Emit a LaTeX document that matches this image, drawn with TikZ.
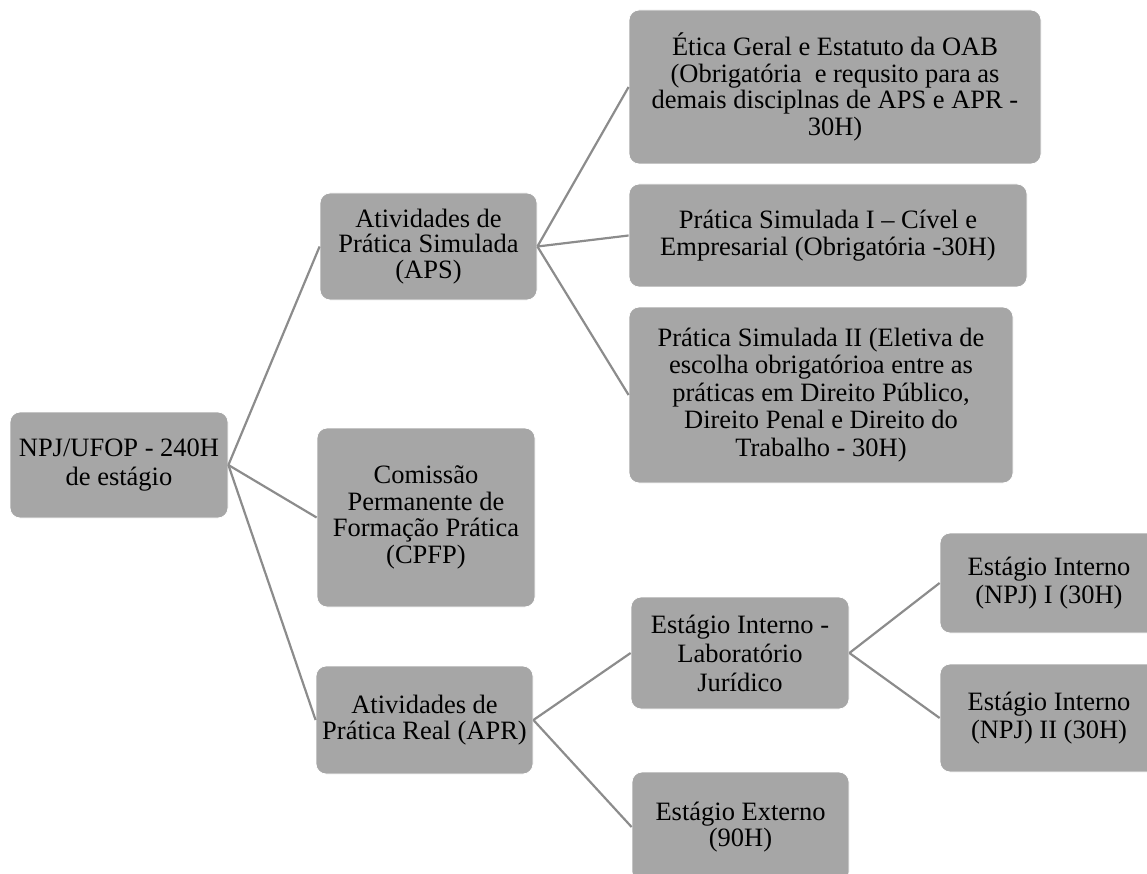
\documentclass[tikz,border=0pt]{standalone}
\usepackage{fontspec}
\setmainfont{Liberation Serif}
\definecolor{boxfill}{RGB}{166,166,166}
\definecolor{linkc}{RGB}{140,140,140}
\tikzset{
  box/.style={rounded corners=10pt, fill=boxfill, draw=white, line width=0.8pt,
    inner sep=0pt, align=center, text=black,
    font=\fontsize{26.5}{26.5}\selectfont},
  link/.style={draw=linkc, line width=2.2pt}
}
\begin{document}
\begin{tikzpicture}[x=1pt, y=-1pt]
\useasboundingbox (0,0) rectangle (1147,874);
\clip (0,0) rectangle (1147,874);
\node[box, minimum width=218pt, minimum height=106pt, font=\fontsize{26.5}{29.5}\selectfont] (root) at (119,465) {NPJ/UFOP - 240H\\de estágio};
\node[box, minimum width=217pt, minimum height=107pt, font=\fontsize{26.5}{25.7}\selectfont] (aps) at (428.5,246.5) {Atividades de\\Prática Simulada\\(APS)};
\node[box, minimum width=218pt, minimum height=179pt] (cpfp) at (426,517.5) {Comissão\\Permanente de\\Formação Prática\\(CPFP)};
\node[box, minimum width=217pt, minimum height=108pt] (apr) at (424.5,720) {Atividades de\\Prática Real (APR)};
\node[box, minimum width=412pt, minimum height=154pt] (etica) at (835,87) {Ética Geral e Estatuto da OAB\\(Obrigatória\ \ e requsito para as\\demais disciplnas de APS e APR -\\30H)};
\node[box, minimum width=398pt, minimum height=103pt] (psi) at (828,235.5) {Prática Simulada I – Cível e\\Empresarial (Obrigatória -30H)};
\node[box, minimum width=384pt, minimum height=176pt, font=\fontsize{26.5}{27.5}\selectfont] (psii) at (821,395) {Prática Simulada II (Eletiva de\\escolha obrigatórioa entre as\\práticas em Direito Público,\\Direito Penal e Direito do\\Trabalho - 30H)};
\node[box, minimum width=218pt, minimum height=112pt, font=\fontsize{26.5}{29}\selectfont] (lab) at (740,653) {Estágio Interno -\\Laboratório\\Jurídico};
\node[box, minimum width=217pt, minimum height=110pt] (ext) at (740.5,827) {Estágio Externo\\(90H)};
\node[box, minimum width=218pt, minimum height=100pt, font=\fontsize{26.5}{28.5}\selectfont] (int1) at (1049,583) {Estágio Interno\\(NPJ) I (30H)};
\node[box, minimum width=218pt, minimum height=108pt, font=\fontsize{26.5}{28.5}\selectfont] (int2) at (1049,718) {Estágio Interno\\(NPJ) II (30H)};
\draw[link] (root.east) -- (aps.west);
\draw[link] (root.east) -- (cpfp.west);
\draw[link] (root.east) -- (apr.west);
\draw[link] (aps.east) -- (etica.west);
\draw[link] (aps.east) -- (psi.west);
\draw[link] (aps.east) -- (psii.west);
\draw[link] (apr.east) -- (lab.west);
\draw[link] (apr.east) -- (ext.west);
\draw[link] (lab.east) -- (int1.west);
\draw[link] (lab.east) -- (int2.west);
\end{tikzpicture}
\end{document}
